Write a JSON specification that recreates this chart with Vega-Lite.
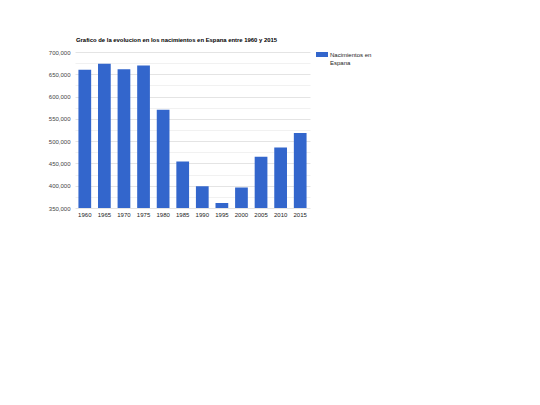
{
  "$schema": "https://vega.github.io/schema/vega-lite/v6.json",
  "width": 235,
  "height": 156,
  "autosize": {"type": "none"},
  "padding": {"left": 75, "top": 52, "right": 230, "bottom": 197},
  "background": "white",
  "title": {
    "text": "Grafico de la evolucion en los nacimientos en Espana entre 1960 y 2015",
    "anchor": "start",
    "frame": "group",
    "font": "Liberation Sans",
    "fontSize": 5.9,
    "fontWeight": "bold",
    "color": "#000000",
    "offset": 6,
    "dx": 1
  },
  "data": {
    "values": [
      {"anio": "1960", "nacimientos": 660000, "serie": "Nacimientos en Espana"},
      {"anio": "1965", "nacimientos": 673500, "serie": "Nacimientos en Espana"},
      {"anio": "1970", "nacimientos": 661500, "serie": "Nacimientos en Espana"},
      {"anio": "1975", "nacimientos": 669500, "serie": "Nacimientos en Espana"},
      {"anio": "1980", "nacimientos": 570500, "serie": "Nacimientos en Espana"},
      {"anio": "1985", "nacimientos": 454500, "serie": "Nacimientos en Espana"},
      {"anio": "1990", "nacimientos": 399000, "serie": "Nacimientos en Espana"},
      {"anio": "1995", "nacimientos": 361000, "serie": "Nacimientos en Espana"},
      {"anio": "2000", "nacimientos": 396000, "serie": "Nacimientos en Espana"},
      {"anio": "2005", "nacimientos": 465000, "serie": "Nacimientos en Espana"},
      {"anio": "2010", "nacimientos": 485500, "serie": "Nacimientos en Espana"},
      {"anio": "2015", "nacimientos": 518500, "serie": "Nacimientos en Espana"}
    ]
  },
  "mark": {"type": "bar", "clip": true},
  "encoding": {
    "x": {
      "field": "anio",
      "type": "ordinal",
      "title": null,
      "scale": {"paddingInner": 0.35, "paddingOuter": 0.175},
      "axis": {
        "labelAngle": 0,
        "ticks": false,
        "domain": false,
        "labelPadding": 3,
        "labelFont": "Liberation Sans",
        "labelFontSize": 6,
        "labelColor": "#222222"
      }
    },
    "y": {
      "field": "nacimientos",
      "type": "quantitative",
      "title": null,
      "scale": {"domain": [350000, 700000], "nice": false, "zero": false},
      "axis": {
        "values": [350000, 375000, 400000, 425000, 450000, 475000, 500000, 525000, 550000, 575000, 600000, 625000, 650000, 675000, 700000],
        "labelExpr": "datum.value % 50000 == 0 ? format(datum.value, ',') : ''",
        "ticks": false,
        "domain": false,
        "labelPadding": 5,
        "labelFont": "Liberation Sans",
        "labelFontSize": 6,
        "labelColor": "#444444",
        "gridColor": {"condition": {"test": "datum.value % 50000 == 0", "value": "#dddddd"}, "value": "#eeeeee"},
        "gridWidth": 0.8
      }
    },
    "color": {
      "field": "serie",
      "type": "nominal",
      "title": null,
      "scale": {"range": ["#3366cc"]},
      "legend": {
        "orient": "none",
        "legendX": 241,
        "legendY": -1,
        "symbolType": "M-1,-0.83H1V0H-1Z",
        "symbolSize": 144,
        "symbolStrokeWidth": 0,
        "symbolOpacity": 1,
        "labelFont": "Liberation Sans",
        "labelFontSize": 6,
        "labelColor": "#222222",
        "labelExpr": "['Nacimientos en', 'Espana']",
        "labelBaseline": "alphabetic",
        "labelLineHeight": 8.5,
        "labelOffset": 2,
        "padding": 0
      }
    }
  },
  "config": {
    "view": {"stroke": null}
  }
}
